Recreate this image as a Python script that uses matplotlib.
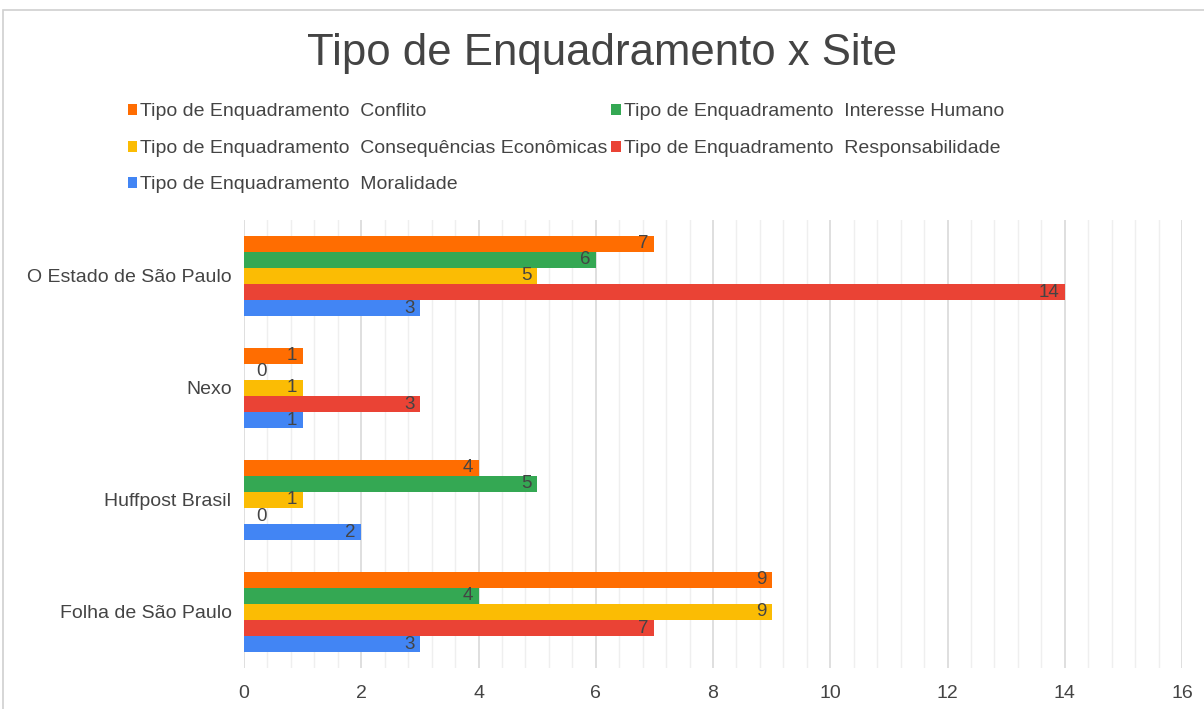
import matplotlib.pyplot as plt
import matplotlib.patches as mpatches
import numpy as np

plt.rcParams['font.family'] = ['Liberation Sans', 'DejaVu Sans']

sites = ["Folha de São Paulo", "Huffpost Brasil", "Nexo", "O Estado de São Paulo"]
series = [
    "Tipo de Enquadramento  Conflito",
    "Tipo de Enquadramento  Interesse Humano",
    "Tipo de Enquadramento  Consequências Econômicas",
    "Tipo de Enquadramento  Responsabilidade",
    "Tipo de Enquadramento  Moralidade",
]
# values per series, in the order of sites (bottom to top)
conflito = [9, 4, 1, 7]
interesse = [4, 5, 0, 6]
consequencias = [9, 1, 1, 5]
responsabilidade = [7, 0, 3, 14]
moralidade = [3, 2, 1, 3]
values = [conflito, interesse, consequencias, responsabilidade, moralidade]
colors = ["#FF6D01", "#34A853", "#FBBC04", "#EA4335", "#4285F4"]

fig = plt.figure(figsize=(12.04, 7.09), dpi=100)
ax = fig.add_axes([244 / 1204, 1 - 668 / 709, (1182 - 244) / 1204, (668 - 220) / 709])

# chart border
fig.patches.append(mpatches.Rectangle((3 / 1204, -0.1), 1.2, 1 - 10 / 709 + 0.1,
                                      transform=fig.transFigure, fill=False,
                                      edgecolor="#d0d0d0", linewidth=1.2))

y = np.arange(len(sites))
h = 0.143
handles = []
for i, (name, vals, c) in enumerate(zip(series, values, colors)):
    pos = y + (2 - i) * h
    bars = ax.barh(pos, vals, height=h, color=c, label=name, zorder=3)
    handles.append(bars)
    for p, v in zip(pos, vals):
        if v > 0:
            ax.annotate(str(v), (v, p), xytext=(-4, 0), textcoords="offset points",
                        ha="right", va="center", fontsize=13.5, color="#444444", zorder=4)
        else:
            ax.annotate(str(v), (v, p), xytext=(9, 0), textcoords="offset points",
                        ha="left", va="center", fontsize=13.5, color="#444444", zorder=4)

ax.set_xlim(0, 16)
ax.set_ylim(-0.5, 3.5)
ax.set_xticks(np.arange(0, 17, 2))
ax.set_xticks(np.arange(0, 16.01, 0.4), minor=True)
ax.set_yticks(y)
ax.set_yticklabels(sites)
ax.grid(axis="x", which="major", color="#d9d9d9", linewidth=1.2, zorder=0)
ax.grid(axis="x", which="minor", color="#efefef", linewidth=1.0, zorder=0)
for s in ax.spines.values():
    s.set_visible(False)
ax.tick_params(axis="both", which="both", length=0, labelsize=14, colors="#444444")
ax.tick_params(axis="y", pad=9)
ax.tick_params(axis="x", pad=12)

fig.text(0.5, 1 - 54 / 709, "Tipo de Enquadramento x Site", ha="center", va="center",
         fontsize=31.5, color="#444444")

order = [0, 2, 4, 1, 3]
leg = fig.legend([handles[k] for k in order], [series[k] for k in order],
                 loc="upper left", bbox_to_anchor=(110 / 1204, 1 - 86 / 709), ncol=2,
                 frameon=False, fontsize=14, handlelength=0.5, handleheight=0.5,
                 handletextpad=0.15, columnspacing=0.2, labelspacing=1.0)
for t in leg.get_texts():
    t.set_color("#444444")

fig.savefig("out.png", dpi=100)
